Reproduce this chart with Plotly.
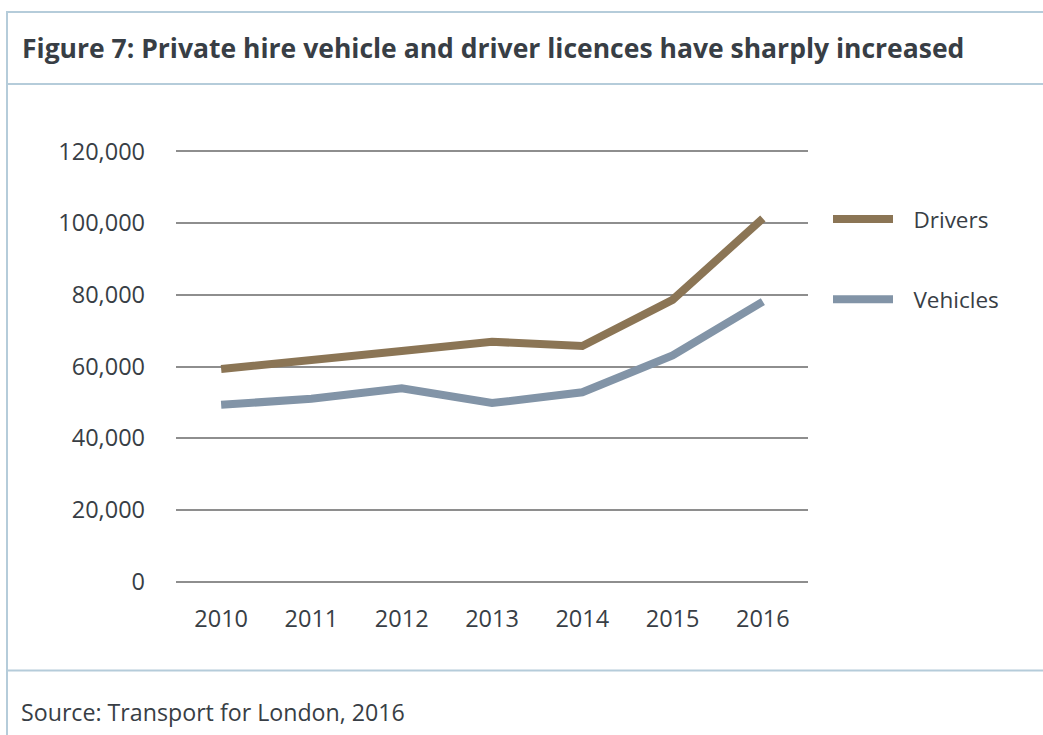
import plotly.graph_objects as go

years = ["2010", "2011", "2012", "2013", "2014", "2015", "2016"]
drivers = [59300, 61600, 64300, 66900, 65700, 78600, 101300]
vehicles = [49300, 51000, 53900, 49800, 52800, 63100, 78100]
y_ticks = [0, 20000, 40000, 60000, 80000, 100000, 120000]
series_names = ["Drivers", "Vehicles"]
title_text = "Figure 7: Private hire vehicle and driver licences have sharply increased"
source_text = "Source: Transport for London, 2016"

W, H = 1043, 735
Y0_PX, Y120_PX = 582.0, 151.5          # pixel rows of 0 and 120,000
PAD = 400                               # small range padding so edge gridlines show
ppu = (Y0_PX - Y120_PX) / 120000.0
L, R = 176, 235
T = Y120_PX - PAD * ppu
B = H - (Y0_PX + PAD * ppu)
PW = W - L - R
PH = H - T - B


def px(x):
    return (x - L) / PW


def py(y):
    return (H - B - y) / PH


FONT = "Open Sans"
TXT = "#383E45"
BORDER = "#B5CCDA"
GAP = "\u00a0\u00a0\u2009"

fig = go.Figure()
fig.add_trace(go.Scatter(x=years, y=drivers, mode="lines", name=GAP + series_names[0],
                         line=dict(color="#8B7555", width=8), legendgroup="a"))
fig.add_trace(go.Scatter(x=years, y=vehicles, mode="lines", name=GAP + series_names[1],
                         line=dict(color="#8294A7", width=8), legendgroup="b"))

shapes = [
    dict(type="line", xref="paper", yref="paper", x0=px(7), x1=px(1060), y0=py(12), y1=py(12),
         line=dict(color=BORDER, width=2)),
    dict(type="line", xref="paper", yref="paper", x0=px(7), x1=px(1060), y0=py(84), y1=py(84),
         line=dict(color=BORDER, width=2)),
    dict(type="line", xref="paper", yref="paper", x0=px(7), x1=px(1060), y0=py(671), y1=py(671),
         line=dict(color=BORDER, width=2)),
    dict(type="line", xref="paper", yref="paper", x0=px(7), x1=px(7), y0=py(11), y1=py(740),
         line=dict(color=BORDER, width=2)),
]

annotations = [
    dict(text="<b>" + title_text + "</b>", xref="paper", yref="paper", x=px(20), y=py(48),
         xanchor="left", yanchor="middle", showarrow=False,
         font=dict(family=FONT, size=26.5, color=TXT)),
    dict(text=source_text, xref="paper", yref="paper", x=px(19), y=py(713),
         xanchor="left", yanchor="middle", showarrow=False,
         font=dict(family=FONT, size=23.2, color=TXT)),
]

fig.update_layout(
    width=W, height=H,
    margin=dict(l=L, r=R, t=T, b=B, autoexpand=False),
    paper_bgcolor="white", plot_bgcolor="white",
    font=dict(family=FONT, color=TXT, size=20),
    showlegend=True,
    legend=dict(x=px(828), y=py(198), xanchor="left", yanchor="top",
                font=dict(family=FONT, size=22.5, color=TXT),
                traceorder="grouped", tracegroupgap=48, itemwidth=60,
                bgcolor="rgba(0,0,0,0)"),
    xaxis=dict(range=[-0.5, 6.5], showgrid=False, showline=False, ticks="", zeroline=False,
               ticklabelstandoff=19,
               tickfont=dict(family=FONT, size=23.5, color=TXT)),
    yaxis=dict(range=[-PAD, 120000 + PAD], tickvals=y_ticks, tickformat=",d",
               showgrid=True, gridcolor="#8E8E8E", gridwidth=1.5,
               zeroline=False, showline=False, ticks="", ticklabelstandoff=30,
               tickfont=dict(family=FONT, size=23.5, color=TXT)),
    shapes=shapes, annotations=annotations,
)

fig.write_html("out.html", config={"displayModeBar": False},
               post_script="document.body.style.margin='0px';")
